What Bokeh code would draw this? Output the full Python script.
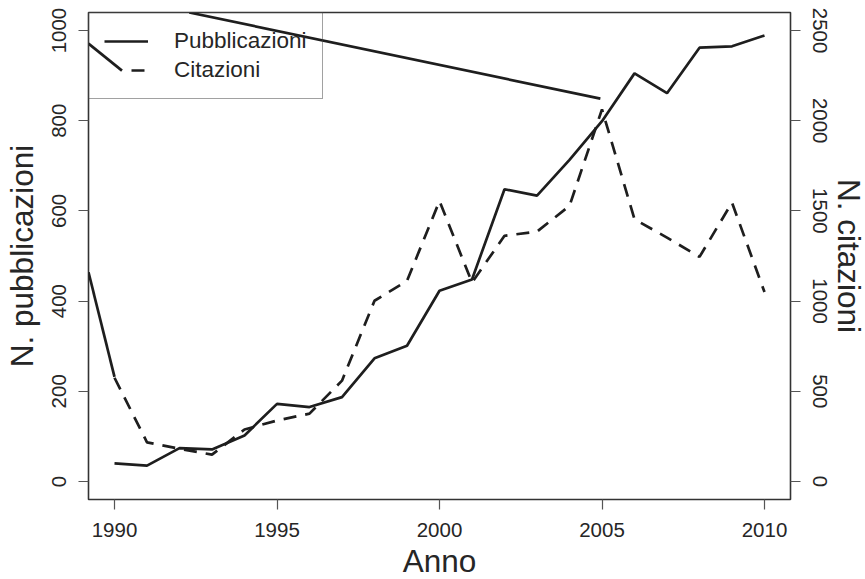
from bokeh.plotting import figure
from bokeh.models import Range1d, LinearAxis, FixedTicker, Legend, LegendItem
from bokeh.embed import file_html
from bokeh.resources import INLINE

# ---- data ----
anni = list(range(1990, 2011))
pubblicazioni = [40, 35, 74, 71, 102, 172, 165, 187, 273, 301, 423, 448,
                 648, 634, 713, 799, 905, 861, 962, 965, 989]
citazioni = [575, 217, 181, 149, 288, 338, 376, 559, 1002, 1112, 1555, 1103,
             1362, 1385, 1528, 2063, 1454, 1352, 1245, 1546, 1050]

# stray solid strokes visible in the reference (left-axis units)
traccia_a_x = [1992.3, 2004.95]
traccia_a_y = [1040, 849]
traccia_b_x = [1989.2, 1990.0]
traccia_b_y = [464, 232]
traccia_c_x = [1989.2, 1990.23]
traccia_c_y = [971, 911]

x_ticks = [1990, 1995, 2000, 2005, 2010]
y_ticks_pub = [0, 200, 400, 600, 800, 1000]
y_ticks_cit = [0, 500, 1000, 1500, 2000, 2500]

FONT = "Liberation Sans"
INK = "#1e1e1e"
TXT = "#262626"

p = figure(frame_width=702, frame_height=487,
           x_range=Range1d(1989.2, 2010.8), y_range=Range1d(-40, 1040),
           output_backend="svg", toolbar_location=None,
           min_border_left=86, min_border_top=12, min_border_right=77,
           min_border_bottom=80)
p.extra_y_ranges = {"cit": Range1d(-100, 2600)}

p.xgrid.visible = False
p.ygrid.visible = False
p.outline_line_color = "#333333"
p.outline_line_width = 1.6
p.background_fill_color = "white"
p.border_fill_color = "white"

lw = 2.7
r_pub = p.line(anni, pubblicazioni, line_color=INK, line_width=lw)
p.line(anni, citazioni, y_range_name="cit", line_color=INK, line_width=lw,
       line_dash="13 9")
for xs, ys in [(traccia_a_x, traccia_a_y), (traccia_b_x, traccia_b_y),
               (traccia_c_x, traccia_c_y)]:
    p.line(xs, ys, line_color=INK, line_width=lw)

# one-point (invisible) renderer that only supplies the dashed legend sample
r_cit_leg = p.line(anni[:1], citazioni[:1], y_range_name="cit",
                   line_color=INK, line_width=lw, line_dash="0 27 13 100")

def style_axis(ax, ticks):
    ax.ticker = FixedTicker(ticks=ticks)
    ax.minor_tick_line_color = None
    ax.axis_line_color = None
    ax.major_tick_out = 10
    ax.major_tick_in = 0
    ax.major_tick_line_color = "#555555"
    ax.major_tick_line_width = 1.2
    ax.major_label_text_font = FONT
    ax.major_label_text_font_size = "20.5px"
    ax.major_label_text_color = TXT
    ax.axis_label_text_font = FONT
    ax.axis_label_text_font_size = "31.5px"
    ax.axis_label_text_font_style = "normal"
    ax.axis_label_text_color = TXT

xa = p.xaxis[0]
style_axis(xa, x_ticks)
xa.axis_label = "Anno"
xa.major_label_standoff = 13
xa.axis_label_standoff = 3

ya = p.yaxis[0]
style_axis(ya, y_ticks_pub)
ya.axis_label = "N. pubblicazioni"
ya.major_label_orientation = "vertical"
ya.major_label_standoff = 12
ya.axis_label_standoff = 10

yr = LinearAxis(y_range_name="cit")
style_axis(yr, y_ticks_cit)
yr.axis_label = "N. citazioni"
yr.major_label_orientation = "vertical"
yr.major_label_standoff = 12
yr.axis_label_standoff = 1
p.add_layout(yr, "right")

legend = Legend(items=[LegendItem(label="Pubblicazioni", renderers=[r_pub]),
                       LegendItem(label="Citazioni", renderers=[r_cit_leg])],
                location="top_left", margin=0, padding=15, spacing=3,
                glyph_width=44, glyph_height=26, label_height=26,
                label_standoff=26,
                label_text_font=FONT, label_text_font_size="22.5px",
                label_text_color=TXT,
                border_line_color="#444444", border_line_width=1,
                background_fill_alpha=0)
p.add_layout(legend)

open("out.html", "w").write(file_html(p, INLINE))
